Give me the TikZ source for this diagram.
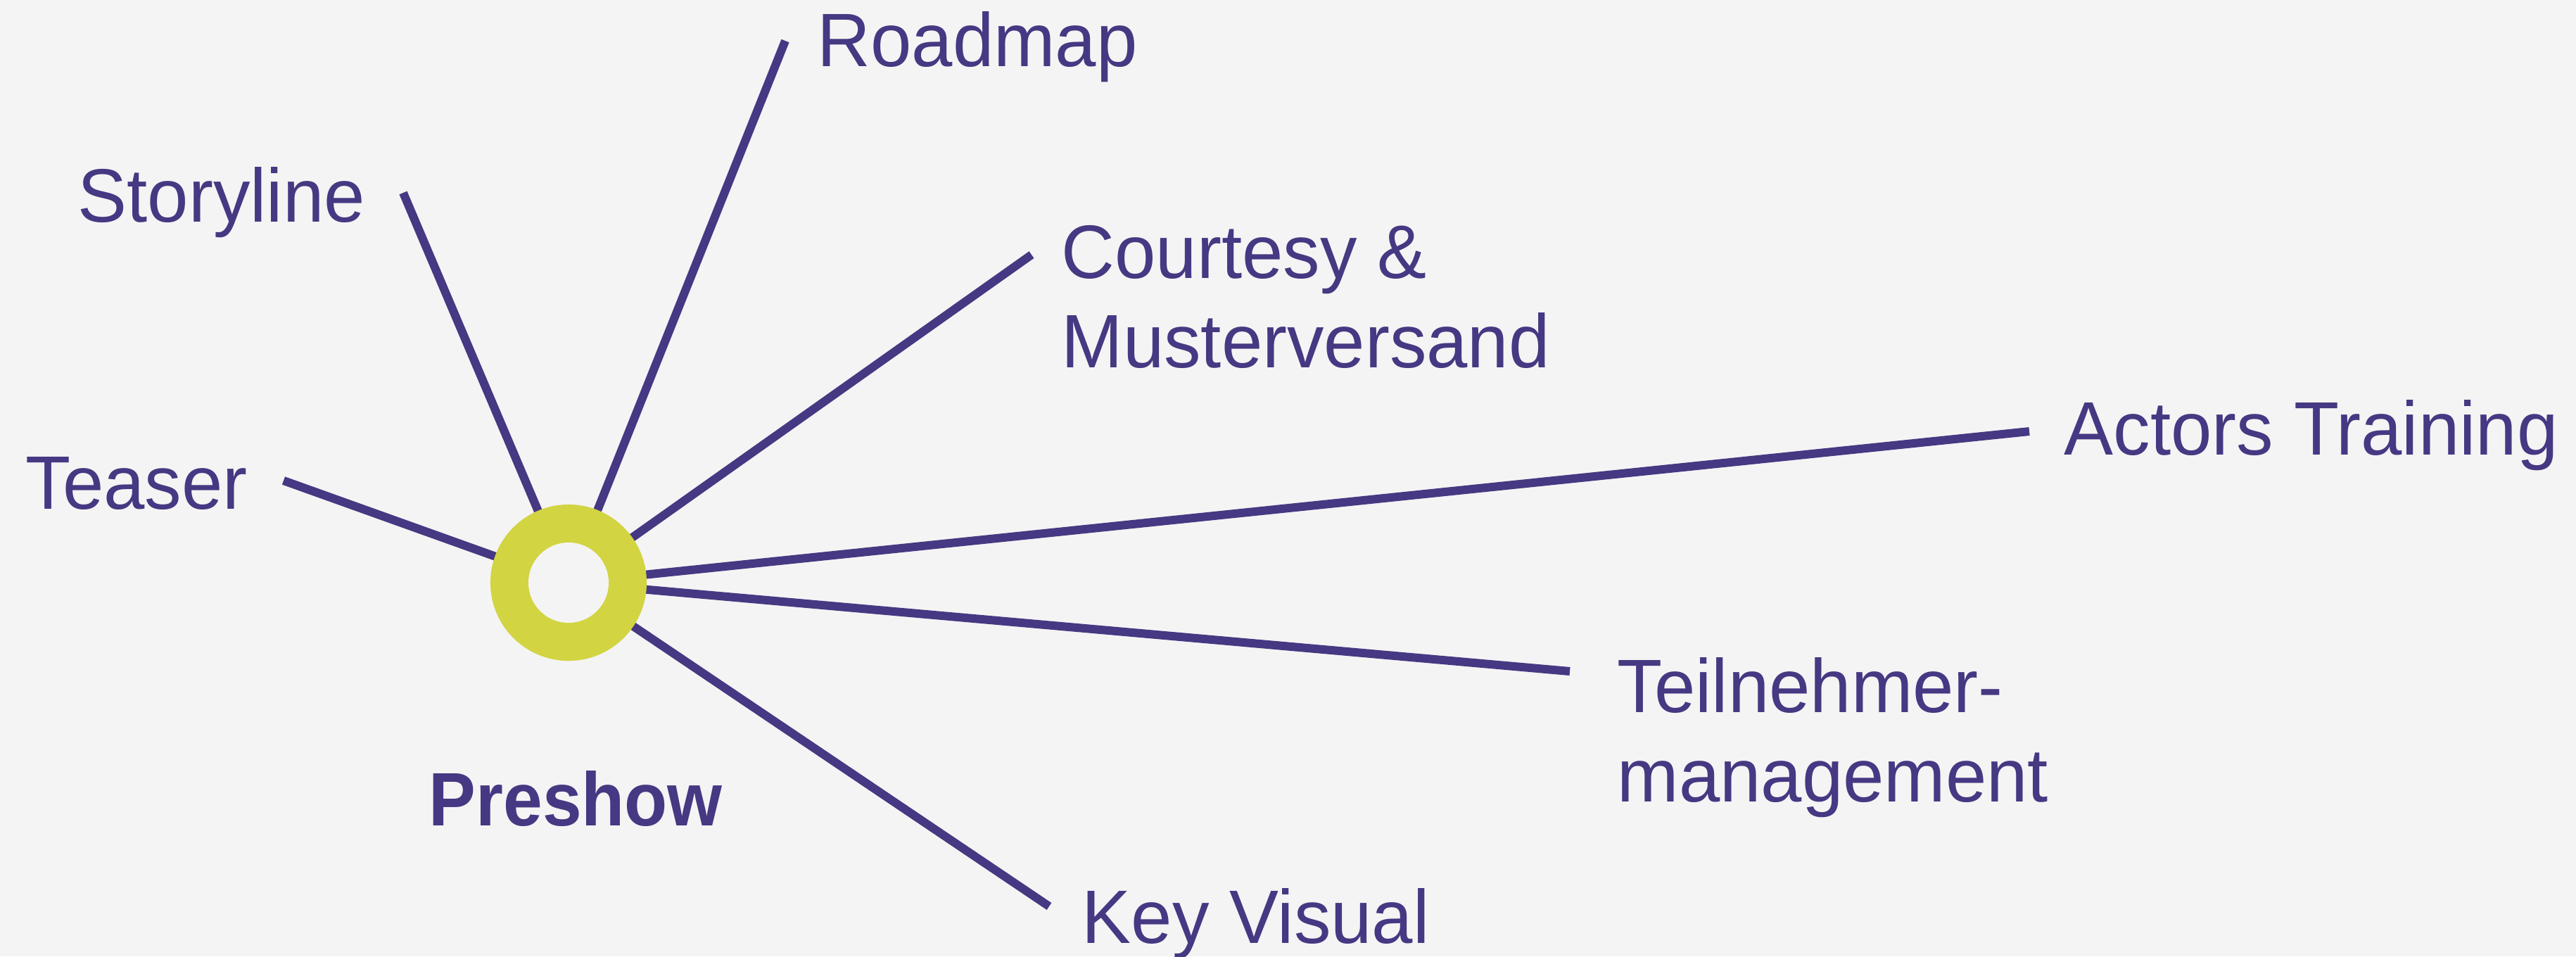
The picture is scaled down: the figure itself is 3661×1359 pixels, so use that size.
\documentclass[tikz,border=0pt]{standalone}
\usepackage{fontspec}
\setmainfont[FakeStretch=0.975,BoldFeatures={FakeStretch=0.93}]{Liberation Sans}
\definecolor{bgc}{HTML}{F4F4F4}
\definecolor{purp}{HTML}{463882}
\definecolor{lime}{HTML}{D2D442}
\begin{document}
\begin{tikzpicture}[x=0.01cm,y=-0.01cm,
  spoke/.style={draw=purp,line width=0.12cm},
  lbl/.style={anchor=base west,inner sep=0pt,text=purp,align=left,
    font=\fontsize{30.6pt}{36.1pt}\selectfont},
  ringnode/.style={circle,fill=lime,minimum size=2.22cm,inner sep=0pt},
  holenode/.style={circle,fill=bgc,minimum size=1.14cm,inner sep=0pt}]
\fill[bgc] (0,0) rectangle (3661,1359);
\useasboundingbox (0,0) rectangle (3661,1359);
\coordinate (c) at (808,828);
\coordinate (eTeaser) at (403,683);
\coordinate (eStory) at (573,274);
\coordinate (eRoad) at (1116,58);
\coordinate (eCourt) at (1466,362);
\coordinate (eActors) at (2884,613);
\coordinate (eTeil) at (2231,954);
\coordinate (eKey) at (1491,1288);
\foreach \e in {eTeaser,eStory,eRoad,eCourt,eActors,eTeil,eKey}
  \draw[spoke] (c) -- (\e);
\node[ringnode] (hub) at (c) {};
\node[holenode] (hole) at (c) {};
\node[lbl] (teaser) at (36,723) {Teaser};
\node[lbl] (story) at (110,315) {Storyline};
\node[lbl] (road) at (1161,94) {Roadmap};
\node[lbl] (court) at (1508,522) {Courtesy \&\\Musterversand};
\node[lbl] (actors) at (2933,646) {Actors Training};
\node[lbl] (teil) at (2298,1139) {Teilnehmer-\\management};
\node[lbl] (key) at (1537,1340) {Key Visual};
\node[lbl,font=\fontsize{30.6pt}{36.1pt}\selectfont\bfseries] (pre) at (609,1173) {Preshow};
\end{tikzpicture}
\end{document}
